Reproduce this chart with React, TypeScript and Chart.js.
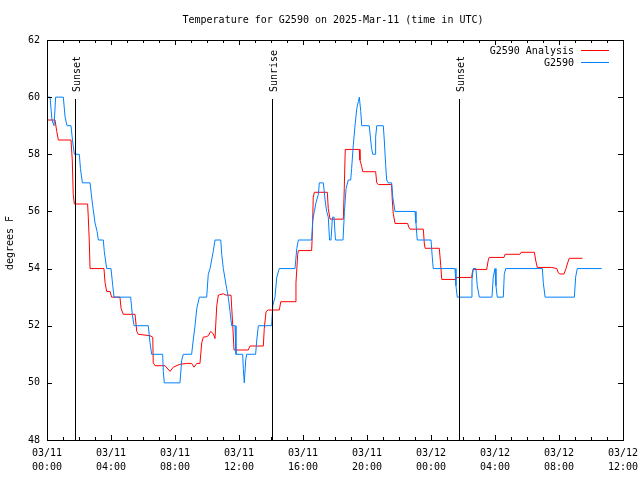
import React, { useEffect, useRef } from 'react';
import { Chart, registerables } from 'chart.js';

Chart.register(...registerables);

const titleText = 'Temperature for G2590 on 2025-Mar-11 (time in UTC)';
const yAxisTitle = 'degrees F';
const seriesNames = ['G2590 Analysis', 'G2590'];
const seriesColors = ['#ff0000', '#0080ff'];

const xTickDays = ['03/11', '03/11', '03/11', '03/11', '03/11', '03/11', '03/12', '03/12', '03/12', '03/12'];
const xTickTimes = ['00:00', '04:00', '08:00', '12:00', '16:00', '20:00', '00:00', '04:00', '08:00', '12:00'];
const yTickValues = [48, 50, 52, 54, 56, 58, 60, 62];

const eventHours = [1.75, 14.08, 25.77];
const eventLabels = ['Sunset', 'Sunrise', 'Sunset'];

// hours since 03/11 00:00 UTC
const analysisHours = [
  0.0, 0.5, 0.61, 0.71, 1.5, 1.58, 1.64, 1.71, 2.54, 2.58, 2.64, 2.69, 3.56, 3.63, 3.73, 3.94, 4.04, 4.56, 4.63, 4.77,
  5.5, 5.61, 5.71, 6.44, 6.61, 6.64, 6.75, 7.38, 7.69, 7.89, 8.31, 8.73, 9.04, 9.19, 9.36, 9.56, 9.67, 9.77, 9.98, 10.08,
  10.23, 10.39, 10.5, 10.61, 10.71, 11.02, 11.19, 11.5, 11.61, 11.69, 12.58, 12.69, 13.52, 13.58, 13.69, 13.83, 14.52, 14.61, 15.5, 15.56,
  15.67, 15.71, 16.54, 16.59, 16.64, 16.71, 17.52, 17.58, 17.69, 18.52, 18.58, 18.64, 19.52, 19.56, 19.67, 19.73, 20.54, 20.61, 20.71, 21.54,
  21.58, 21.64, 21.75, 22.54, 22.61, 22.69, 23.52, 23.58, 23.63, 24.52, 24.61, 24.67, 25.56, 25.61, 26.54, 26.58, 26.64, 27.48, 27.58, 27.64,
  28.56, 28.63, 29.56, 29.63, 30.46, 30.54, 30.64, 31.54, 31.86, 31.96, 32.06, 32.31, 32.44, 32.54, 32.64, 33.46,
];
const analysisTemps = [
  59.2, 59.2, 58.8, 58.5, 58.5, 57.8, 56.6, 56.26, 56.26, 55.8, 55.0, 54.0, 54.0, 53.5, 53.2, 53.2, 53.0, 53.0, 52.6, 52.4,
  52.4, 51.8, 51.7, 51.65, 51.6, 50.7, 50.6, 50.6, 50.4, 50.55, 50.65, 50.68, 50.68, 50.55, 50.68, 50.68, 51.4, 51.6, 51.62, 51.65,
  51.8, 51.72, 51.55, 52.7, 53.07, 53.12, 53.07, 53.07, 52.0, 51.15, 51.15, 51.29, 51.29, 51.9, 52.49, 52.55, 52.55, 52.84, 52.84, 53.5,
  54.5, 54.63, 54.63, 55.3, 56.5, 56.67, 56.67, 56.1, 55.73, 55.73, 56.8, 58.17, 58.17, 57.8, 57.57, 57.39, 57.39, 57.0, 56.94, 56.94,
  56.4, 55.93, 55.58, 55.58, 55.45, 55.38, 55.38, 54.9, 54.71, 54.71, 54.1, 53.62, 53.62, 53.69, 53.69, 53.85, 53.97, 53.97, 54.3, 54.39,
  54.39, 54.5, 54.5, 54.57, 54.57, 54.3, 54.04, 54.04, 54.0, 53.85, 53.81, 53.81, 54.0, 54.2, 54.36, 54.36,
];

const obsHours = [
  0.0, 0.19, 0.31, 0.44, 0.54, 1.02, 1.13, 1.25, 1.5, 1.59, 1.71, 2.02, 2.09, 2.21, 2.69, 2.79, 2.88, 3.0, 3.13, 3.21,
  3.52, 3.58, 3.73, 4.0, 4.11, 4.19, 5.23, 5.33, 5.44, 6.33, 6.44, 6.54, 7.23, 7.27, 7.33, 8.31, 8.42, 8.52, 9.04, 9.14,
  9.25, 9.36, 9.52, 9.98, 10.08, 10.19, 10.29, 10.39, 10.5, 10.86, 10.92, 11.02, 11.23, 11.33, 11.44, 11.54, 11.75, 11.81, 12.23, 12.27,
  12.33, 12.42, 12.48, 13.04, 13.11, 13.21, 14.04, 14.11, 14.25, 14.36, 14.52, 15.5, 15.61, 15.71, 16.54, 16.61, 16.71, 16.81, 16.96, 17.02,
  17.27, 17.38, 17.48, 17.58, 17.66, 17.75, 17.84, 17.94, 18.03, 18.5, 18.59, 18.69, 18.83, 18.98, 19.04, 19.14, 19.25, 19.36, 19.46, 19.52,
  19.61, 19.67, 20.14, 20.23, 20.29, 20.36, 20.5, 20.54, 20.61, 21.02, 21.08, 21.17, 21.23, 21.33, 21.54, 21.61, 21.75, 23.0, 23.06, 23.14,
  24.0, 24.08, 24.14, 25.5, 25.56, 25.64, 26.5, 26.56, 26.64, 26.81, 26.89, 27.02, 27.81, 27.89, 28.0, 28.06, 28.14, 28.52, 28.58, 28.67,
  30.96, 31.02, 31.13, 32.96, 33.04, 33.14, 34.67,
];
const obsTemps = [
  60, 60, 59.2, 59.0, 60, 60, 59.3, 59.0, 59.0, 58.5, 58.0, 58.0, 57.5, 57.0, 57.0, 56.5, 56.1, 55.6, 55.3, 55.0,
  55.0, 54.6, 54.0, 54.0, 53.4, 53.0, 53.0, 52.4, 52.0, 52.0, 51.4, 51.0, 51.0, 50.4, 50.0, 50.0, 50.8, 51.0, 51.0, 51.5,
  52.0, 52.6, 53.0, 53.0, 53.8, 54.0, 54.3, 54.6, 55.0, 55.0, 54.5, 54.0, 53.3, 53.0, 52.5, 52.0, 52.0, 51.0, 51.0, 50.5,
  50.0, 50.8, 51.0, 51.0, 51.5, 52.0, 52.0, 52.7, 53.0, 53.7, 54.0, 54.0, 54.7, 55.0, 55.0, 55.7, 56.0, 56.3, 56.6, 57.0,
  57.0, 56.4, 56.0, 55.8, 55.0, 55.0, 55.8, 55.8, 55.0, 55.0, 56.0, 56.8, 57.1, 57.1, 57.5, 58.3, 59.0, 59.6, 59.85, 60.0,
  59.5, 59.0, 59.0, 58.5, 58.2, 58.0, 58.0, 58.6, 59.0, 59.0, 58.5, 57.6, 57.1, 57.0, 57.0, 56.5, 56.0, 56.0, 55.6, 55.0,
  55.0, 54.4, 54.0, 54.0, 53.4, 53.0, 53.0, 53.6, 54.0, 54.0, 53.4, 53.0, 53.0, 53.7, 54.0, 53.4, 53.0, 53.0, 53.8, 54.0,
  54.0, 53.5, 53.0, 53.0, 53.7, 54.0, 54.0,
];

const FONT = '10px "DejaVu Sans Mono", monospace';

const gnuplotFrame = {
  id: 'gnuplotFrame',
  afterDatasetsDraw(chart: any) {
    const { ctx, chartArea } = chart;
    const xs = chart.scales.x;
    const ys = chart.scales.y;
    const L = chartArea.left, R = chartArea.right, T = chartArea.top, B = chartArea.bottom;
    const crisp = (v: number) => Math.round(v) + 0.5;
    ctx.save();
    ctx.strokeStyle = '#000';
    ctx.lineWidth = 1;
    ctx.beginPath();
    // x ticks (major every 4h, minor every hour)
    for (let h = xs.min; h <= xs.max; h += 1) {
      const px = crisp(xs.getPixelForValue(h));
      const len = h % 4 === 0 ? 5 : 3;
      ctx.moveTo(px, B); ctx.lineTo(px, B - len);
      ctx.moveTo(px, T); ctx.lineTo(px, T + len);
    }
    yTickValues.forEach((v) => {
      const py = crisp(ys.getPixelForValue(v));
      ctx.moveTo(L, py); ctx.lineTo(L + 5, py);
      ctx.moveTo(R, py); ctx.lineTo(R - 5, py);
    });
    // event markers
    eventHours.forEach((h) => {
      const px = crisp(xs.getPixelForValue(h));
      ctx.moveTo(px, B);
      ctx.lineTo(px, B - 0.8525 * (B - T));
    });
    ctx.stroke();
    // frame
    ctx.strokeRect(crisp(L), crisp(T), Math.round(R - L), Math.round(B - T));

    ctx.fillStyle = '#000';
    ctx.font = FONT;
    // event labels
    eventHours.forEach((h, i) => {
      const px = xs.getPixelForValue(h);
      ctx.save();
      ctx.translate(px + 2, B - 0.87 * (B - T));
      ctx.rotate(-Math.PI / 2);
      ctx.textAlign = 'left';
      ctx.textBaseline = 'middle';
      ctx.fillText(eventLabels[i], 0, 0);
      ctx.restore();
    });
    // title
    ctx.textAlign = 'center';
    ctx.textBaseline = 'middle';
    ctx.fillText(titleText, (L + R) / 2 - 2, 20.5);
    // y-axis title
    ctx.save();
    ctx.translate(10.5, (T + B) / 2 + 3);
    ctx.rotate(-Math.PI / 2);
    ctx.textAlign = 'center';
    ctx.textBaseline = 'middle';
    ctx.fillText(yAxisTitle, 0, 0);
    ctx.restore();
    // legend
    seriesNames.forEach((name, i) => {
      const y = T + 11 + i * 12;
      ctx.textAlign = 'right';
      ctx.textBaseline = 'middle';
      ctx.fillStyle = '#000';
      ctx.fillText(name, R - 49, y);
      ctx.strokeStyle = seriesColors[i];
      ctx.beginPath();
      ctx.moveTo(R - 42, crisp(y - 1));
      ctx.lineTo(R - 14, crisp(y - 1));
      ctx.stroke();
    });
    ctx.restore();
  },
};

export default function App() {
  const canvasRef = useRef<HTMLCanvasElement | null>(null);

  useEffect(() => {
    if (!canvasRef.current) return;
    const toPoints = (hs: number[], ts: number[]) => hs.map((h, i) => ({ x: h, y: ts[i] }));
    const chart = new Chart(canvasRef.current, {
      type: 'line',
      data: {
        datasets: [
          {
            label: seriesNames[0],
            data: toPoints(analysisHours, analysisTemps),
            borderColor: seriesColors[0],
            backgroundColor: seriesColors[0],
            borderWidth: 1,
            pointRadius: 0,
            tension: 0,
            order: 1,
          },
          {
            label: seriesNames[1],
            data: toPoints(obsHours, obsTemps),
            borderColor: seriesColors[1],
            backgroundColor: seriesColors[1],
            borderWidth: 1,
            pointRadius: 0,
            tension: 0,
            order: 0,
          },
        ],
      },
      options: {
        animation: false,
        responsive: false,
        maintainAspectRatio: false,
        layout: { padding: { top: 40, right: 17, left: 0, bottom: 0 } },
        plugins: {
          legend: { display: false },
          title: { display: false },
          tooltip: { enabled: false },
        },
        scales: {
          x: {
            type: 'linear',
            min: 0,
            max: 36,
            grid: { display: false, drawTicks: false, tickLength: 0 },
            border: { display: false },
            afterFit: (scale: any) => {
              scale.height = 40;
              scale.paddingLeft = 0;
              scale.paddingRight = 0;
            },
            ticks: {
              stepSize: 4,
              autoSkip: false,
              maxRotation: 0,
              minRotation: 0,
              padding: 6,
              color: '#000',
              font: { family: '"DejaVu Sans Mono", monospace', size: 10, lineHeight: 1.4 },
              callback: (value: any) => {
                const i = Math.round(Number(value) / 4);
                return [xTickDays[i], xTickTimes[i]];
              },
            },
          },
          y: {
            type: 'linear',
            min: 48,
            max: 62,
            grid: { display: false, drawTicks: false, tickLength: 0 },
            border: { display: false },
            afterFit: (scale: any) => {
              scale.width = 47;
              scale.paddingTop = 0;
              scale.paddingBottom = 0;
            },
            afterBuildTicks: (scale: any) => { scale.ticks = yTickValues.map((v) => ({ value: v })); },
            ticks: {
              padding: 7,
              color: '#000',
              font: { family: '"DejaVu Sans Mono", monospace', size: 10 },
              callback: (value: any) => String(value),
            },
          },
        },
      },
      plugins: [gnuplotFrame],
    });
    return () => chart.destroy();
  }, []);

  return (
    <div style={{ position: 'fixed', left: 0, top: 0, width: 640, height: 480, background: '#fff' }}>
      <canvas ref={canvasRef} width={640} height={480} style={{ width: 640, height: 480, display: 'block' }} />
    </div>
  );
}
